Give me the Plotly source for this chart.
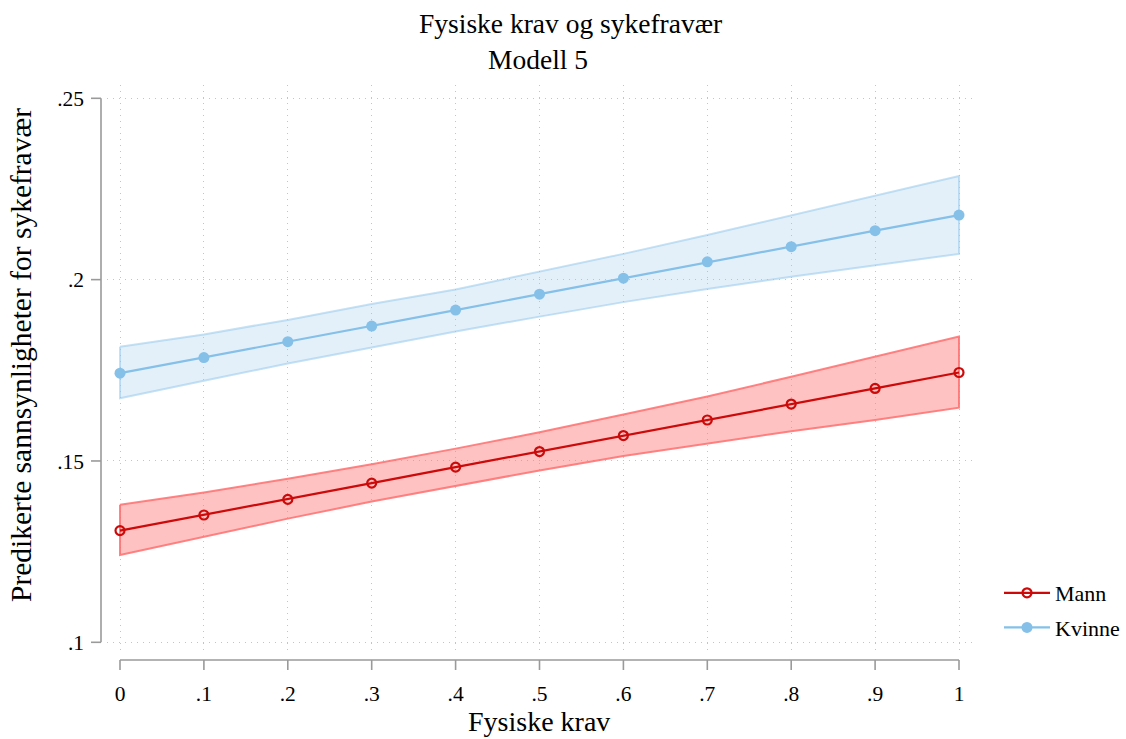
import plotly.graph_objects as go

# Predicted probabilities of sickness absence by physical demands (model 5)
fysiske_krav = [0.0, 0.1, 0.2, 0.3, 0.4, 0.5, 0.6, 0.7, 0.8, 0.9, 1.0]

mann = [0.1308, 0.1351, 0.1394, 0.1439, 0.1483, 0.1526, 0.1570, 0.1613, 0.1657, 0.1700, 0.1744]
mann_ci_hi = [0.1379, 0.1413, 0.1451, 0.1491, 0.1534, 0.1579, 0.1628, 0.1678, 0.1732, 0.1788, 0.1843]
mann_ci_lo = [0.1241, 0.1291, 0.1341, 0.1388, 0.1432, 0.1474, 0.1514, 0.1549, 0.1582, 0.1613, 0.1647]

kvinne = [0.1742, 0.1785, 0.1829, 0.1872, 0.1916, 0.1960, 0.2004, 0.2049, 0.2091, 0.2135, 0.2178]
kvinne_ci_hi = [0.1815, 0.1849, 0.1889, 0.1933, 0.1973, 0.2022, 0.2071, 0.2123, 0.2177, 0.2232, 0.2286]
kvinne_ci_lo = [0.1673, 0.1721, 0.1769, 0.1813, 0.1857, 0.1898, 0.1938, 0.1974, 0.2008, 0.2040, 0.2071]

x_ticks = [0.0, 0.1, 0.2, 0.3, 0.4, 0.5, 0.6, 0.7, 0.8, 0.9, 1.0]
x_tick_text = ["0", ".1", ".2", ".3", ".4", ".5", ".6", ".7", ".8", ".9", "1"]
y_ticks = [0.10, 0.15, 0.20, 0.25]
y_tick_text = [".1", ".15", ".2", ".25"]

FONT = "Liberation Serif"
W, H = 1126, 739
ML, MR, MT, MB = 107, 151, 85, 84
PW, PH = W - ML - MR, H - MT - MB


def px_x(px):
    return (px - ML) / PW


def px_y(py):
    return (MT + PH - py) / PH


RED = "#cc0a0a"
RED_FILL = "rgba(255, 120, 120, 0.45)"
RED_EDGE = "rgba(255, 110, 110, 0.85)"
BLUE = "#84c0e8"
BLUE_FILL = "rgba(150, 200, 235, 0.27)"
BLUE_EDGE = "rgba(150, 200, 235, 0.55)"
AXIS = "#9a9a9a"
GRID = "#c4c4c4"

fig = go.Figure()


def band(lo, hi, fill, edge):
    xs = fysiske_krav + fysiske_krav[::-1] + [fysiske_krav[0]]
    ys = hi + lo[::-1] + [hi[0]]
    fig.add_trace(go.Scatter(
        x=xs, y=ys, mode="lines", fill="toself", fillcolor=fill,
        line=dict(color=edge, width=2), showlegend=False, hoverinfo="skip",
    ))


band(mann_ci_lo, mann_ci_hi, RED_FILL, RED_EDGE)
band(kvinne_ci_lo, kvinne_ci_hi, BLUE_FILL, BLUE_EDGE)

fig.add_trace(go.Scatter(
    x=fysiske_krav, y=mann, name="Mann", legendgroup="mann", mode="lines+markers",
    line=dict(color=RED, width=2.2),
    marker=dict(symbol="circle-open", size=9, color=RED, line=dict(width=2.2, color=RED)),
))
fig.add_trace(go.Scatter(
    x=fysiske_krav, y=kvinne, name="Kvinne", legendgroup="kvinne", mode="lines+markers",
    line=dict(color=BLUE, width=2.2),
    marker=dict(symbol="circle", size=11, color=BLUE),
))

# Detached axis lines and tick marks spanning only the labelled range
shapes = [
    dict(type="line", xref="paper", yref="y", x0=px_x(101), x1=px_x(101),
         y0=y_ticks[0], y1=y_ticks[-1], line=dict(color=AXIS, width=1.6)),
    dict(type="line", xref="x", yref="paper", x0=x_ticks[0], x1=x_ticks[-1],
         y0=px_y(660), y1=px_y(660), line=dict(color=AXIS, width=1.6)),
]
for v in y_ticks:
    shapes.append(dict(type="line", xref="paper", yref="y", x0=px_x(91), x1=px_x(101),
                       y0=v, y1=v, line=dict(color=AXIS, width=1.6)))
for v in x_ticks:
    shapes.append(dict(type="line", xref="x", yref="paper", x0=v, x1=v,
                       y0=px_y(660), y1=px_y(670), line=dict(color=AXIS, width=1.6)))

annotations = [
    dict(text="Fysiske krav og sykefravær", xref="paper", yref="paper",
         x=px_x(570), y=px_y(24), xanchor="center", yanchor="middle", showarrow=False,
         font=dict(family=FONT, size=27.5, color="black")),
    dict(text="Modell 5", xref="paper", yref="paper",
         x=px_x(538), y=px_y(59), xanchor="center", yanchor="middle", showarrow=False,
         font=dict(family=FONT, size=27.5, color="black")),
    dict(text="Fysiske krav", xref="paper", yref="paper",
         x=px_x(539), y=px_y(721), xanchor="center", yanchor="middle", showarrow=False,
         font=dict(family=FONT, size=28, color="black")),
    dict(text="Predikerte sannsynligheter for sykefravær", xref="paper", yref="paper",
         x=px_x(21), y=px_y(355), xanchor="center", yanchor="middle", textangle=-90,
         showarrow=False, font=dict(family=FONT, size=29.5, color="black")),
]

fig.update_layout(
    width=W, height=H,
    margin=dict(l=ML, r=MR, t=MT, b=MB, autoexpand=False),
    paper_bgcolor="white", plot_bgcolor="white",
    font=dict(family=FONT, color="black"),
    shapes=shapes,
    annotations=annotations,
    showlegend=True,
    legend=dict(
        x=px_x(999), y=px_y(572), xanchor="left", yanchor="top",
        font=dict(family=FONT, size=22, color="black"),
        bgcolor="rgba(0,0,0,0)", tracegroupgap=3, itemwidth=46,
    ),
)

fig.update_xaxes(
    range=[-13 / 839, 1 + 16 / 839],
    tickvals=x_ticks, ticktext=x_tick_text, ticks="",
    tickfont=dict(family=FONT, size=21.5, color="black"),
    ticklabelstandoff=23,
    showgrid=True, gridcolor=GRID, gridwidth=1, griddash="1px,5px",
    zeroline=False, showline=False,
)
fig.update_yaxes(
    range=[0.1 - 12.7 / 3626.7, 0.25 + 13.3 / 3626.7],
    tickvals=y_ticks, ticktext=y_tick_text, ticks="",
    tickfont=dict(family=FONT, size=21.5, color="black"),
    ticklabelstandoff=22,
    showgrid=True, gridcolor=GRID, gridwidth=1, griddash="1px,5px",
    zeroline=False, showline=False,
)

fig.write_html("out.html")
